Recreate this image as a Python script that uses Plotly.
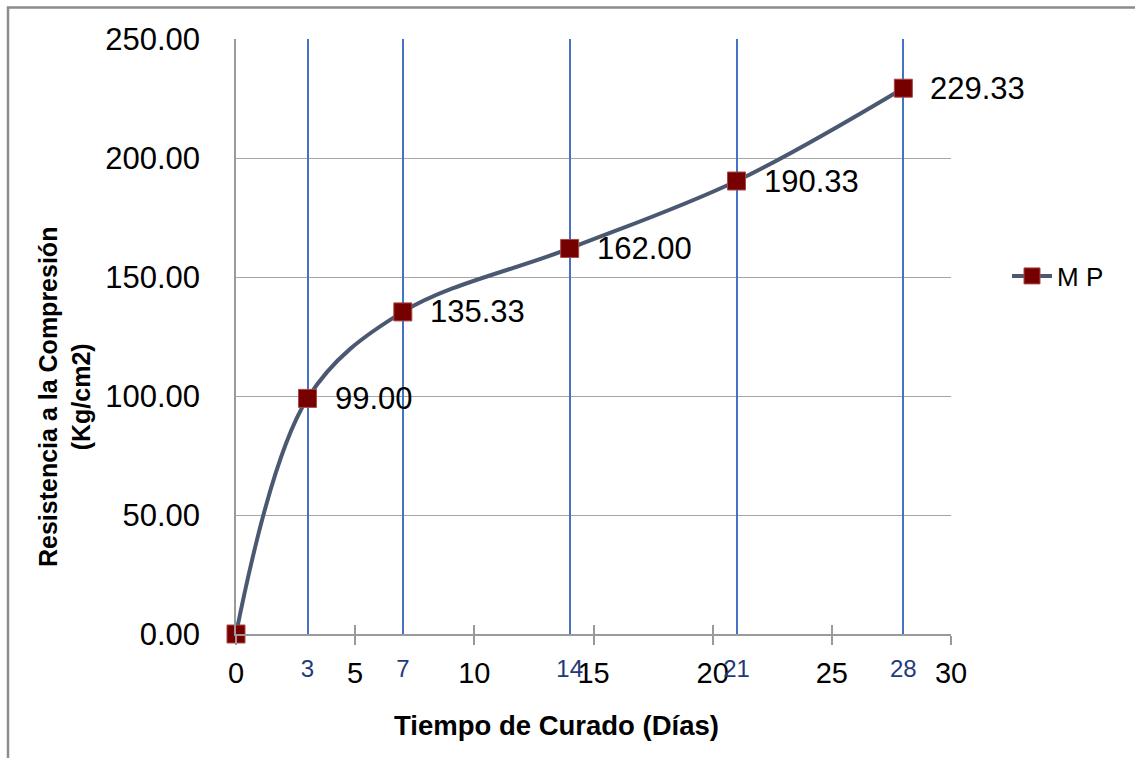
import plotly.graph_objects as go

# Curing age (days) and compressive strength (kg/cm2)
dias = [0, 3, 7, 14, 21, 28]
resistencia = [0.00, 99.00, 135.33, 162.00, 190.33, 229.33]
serie = "M P"

x_ticks = [0, 5, 10, 15, 20, 25, 30]
y_ticks = [0, 50, 100, 150, 200, 250]
y_tick_text = [f"{v:.2f}" for v in y_ticks]
edad_ticks = [3, 7, 14, 21, 28]

FONT = "Liberation Sans, Arial, sans-serif"
W, H = 1135, 758
L, R, T, B = 236, 184, 39, 124
PW, PH = W - L - R, H - T - B


def px_x(p):
    return (p - L) / PW


def px_y(p):
    return (H - B - p) / PH


fig = go.Figure()

fig.add_trace(go.Scatter(
    x=dias, y=resistencia, name=serie,
    mode="lines+markers", cliponaxis=False,
    line=dict(color="#4A5872", width=4, shape="spline", smoothing=1),
    marker=dict(symbol="square", size=18, color="#760000",
                line=dict(color="#A84848", width=1)),
))

# value labels beside each tested age
for d, v in zip(dias, resistencia):
    if d == 0:
        continue
    fig.add_annotation(x=d, y=v, text=f"{v:.2f}", showarrow=False,
                       xanchor="left", yanchor="middle", xshift=25,
                       font=dict(family=FONT, size=31, color="black"))

# axis titles
fig.add_annotation(x=px_x(556), y=px_y(726), xref="paper", yref="paper",
                   text="<b>Tiempo de Curado (Días)</b>", showarrow=False,
                   xanchor="center", yanchor="middle",
                   font=dict(family=FONT, size=27.5, color="black"))
fig.add_annotation(x=px_x(64), y=px_y(397), xref="paper", yref="paper",
                   text="<b>Resistencia a la Compresión<br>(Kg/cm2)</b>",
                   showarrow=False, textangle=-90,
                   xanchor="center", yanchor="middle",
                   font=dict(family=FONT, size=25, color="black"))

# chart frame (left and top edges)
fig.add_shape(type="rect", xref="paper", yref="paper",
              x0=px_x(8), y0=px_y(800), x1=px_x(1200), y1=px_y(7.5),
              line=dict(color="#8C8C8C", width=2.5), fillcolor="rgba(0,0,0,0)",
              layer="below")

fig.update_layout(
    width=W, height=H,
    margin=dict(l=L, r=R, t=T, b=B),
    paper_bgcolor="white", plot_bgcolor="white",
    font=dict(family=FONT, color="black"),
    showlegend=True,
    legend=dict(x=px_x(1007), y=px_y(276), xanchor="left", yanchor="middle",
                font=dict(family=FONT, size=26, color="black"),
                bgcolor="rgba(0,0,0,0)", itemwidth=40),
    xaxis=dict(range=[0, 30], tickvals=x_ticks, ticks="outside", ticklen=9,
               tickcolor="#9A9A9A", tickwidth=1.5,
               showline=True, linecolor="#9A9A9A", linewidth=1.5,
               showgrid=False, zeroline=False,
               tickfont=dict(family=FONT, size=29, color="black"),
               ticklabelstandoff=3),
    xaxis2=dict(range=[0, 30], overlaying="x", anchor="y", side="bottom",
                tickvals=x_ticks, ticks="inside", ticklen=9,
                tickcolor="#9A9A9A", tickwidth=1.5, showticklabels=False,
                showline=False, showgrid=False, zeroline=False),
    xaxis3=dict(range=[0, 30], overlaying="x", anchor="y", side="bottom",
                tickvals=edad_ticks, ticktext=[str(v) for v in edad_ticks],
                ticks="", showline=False, zeroline=False,
                showgrid=True, gridcolor="#4472C4", gridwidth=2,
                tickfont=dict(family=FONT, size=24, color="#1F3A7A"),
                ticklabelstandoff=18),
    yaxis=dict(range=[0, 250], tickvals=y_ticks, ticktext=y_tick_text,
               ticks="", showline=True, linecolor="#9A9A9A", linewidth=1.5,
               showgrid=True, gridcolor="#A6A6A6", gridwidth=1,
               zeroline=False,
               tickfont=dict(family=FONT, size=31, color="black"),
               ticklabelstandoff=28),
)

# invisible traces to activate the overlay axes
fig.add_trace(go.Scatter(x=[0], y=[0], xaxis="x2", mode="markers",
                         marker=dict(opacity=0), showlegend=False,
                         hoverinfo="skip"))
fig.add_trace(go.Scatter(x=[0], y=[0], xaxis="x3", mode="markers",
                         marker=dict(opacity=0), showlegend=False,
                         hoverinfo="skip"))

fig.write_html("out.html")
